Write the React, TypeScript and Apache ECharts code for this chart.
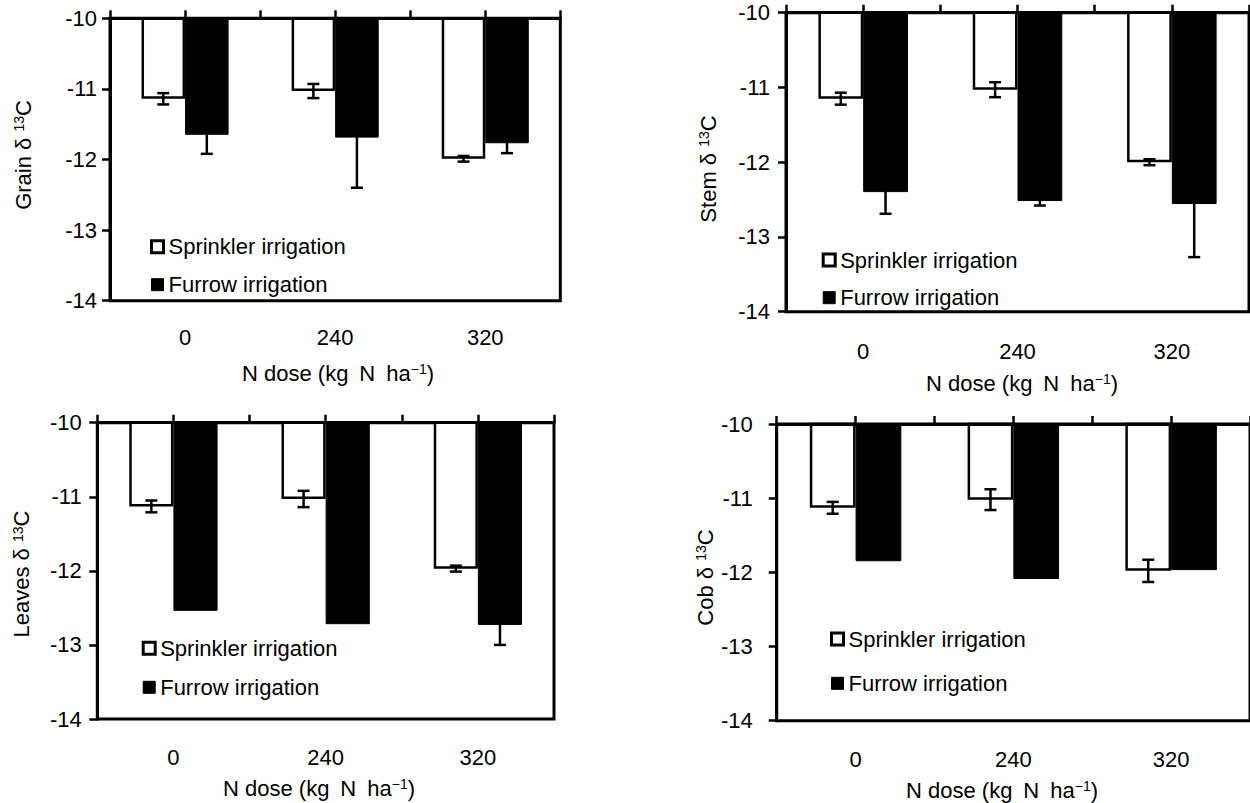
import React, { useEffect, useRef } from "react";
import * as echarts from "echarts";

const categories = ["0", "240", "320"];
const yTicks = [-14, -13, -12, -11, -10];

const grainSprinkler = [-11.14, -11.03, -11.99];
const grainSprinklerErr = [0.08, 0.1, 0.04];
const grainFurrow = [-11.65, -11.69, -11.77];
const grainFurrowErr = [0.27, 0.71, 0.14];

const stemSprinkler = [-11.15, -11.03, -12.0];
const stemSprinklerErr = [0.08, 0.1, 0.04];
const stemFurrow = [-12.4, -12.52, -12.56];
const stemFurrowErr = [0.29, 0.06, 0.71];

const leavesSprinkler = [-11.13, -11.03, -11.97];
const leavesSprinklerErr = [0.08, 0.11, 0.04];
const leavesFurrow = [-12.54, -12.72, -12.73];
const leavesFurrowErr = [0, 0, 0.27];

const cobSprinkler = [-11.13, -11.02, -11.98];
const cobSprinklerErr = [0.08, 0.14, 0.15];
const cobFurrow = [-11.85, -12.09, -11.97];
const cobFurrowErr = [0, 0, 0];

const SPRINKLER = "Sprinkler irrigation";
const FURROW = "Furrow irrigation";
const FONT = "'Liberation Sans', Arial, sans-serif";
const FS = 22;
const GAP = 0.42;

type Panel = {
  organ: string;
  s: number[];
  se: number[];
  f: number[];
  fe: number[];
  grid: { left: number; top: number; width: number; height: number };
  yLabelMargin: number;
  xLabelMargin: number;
  legend: { left: number; top: number; gap: number };
  yTitle: [number, number];
  xTitle: [number, number];
};

const panels: Panel[] = [
  {
    organ: "Grain",
    s: grainSprinkler, se: grainSprinklerErr, f: grainFurrow, fe: grainFurrowErr,
    grid: { left: 110, top: 18.3, width: 450.3, height: 282.4 },
    yLabelMargin: 13, xLabelMargin: 26,
    legend: { left: 150, top: 235.7, gap: 16 },
    yTitle: [23, 155], xTitle: [338, 373],
  },
  {
    organ: "Stem",
    s: stemSprinkler, se: stemSprinklerErr, f: stemFurrow, fe: stemFurrowErr,
    grid: { left: 786, top: 12.7, width: 463, height: 299 },
    yLabelMargin: 16, xLabelMargin: 29,
    legend: { left: 821.7, top: 249, gap: 15.7 },
    yTitle: [708, 169], xTitle: [1022, 383],
  },
  {
    organ: "Leaves",
    s: leavesSprinkler, se: leavesSprinklerErr, f: leavesFurrow, fe: leavesFurrowErr,
    grid: { left: 97.3, top: 422.7, width: 456.7, height: 296.3 },
    yLabelMargin: 15.6, xLabelMargin: 27,
    legend: { left: 141.7, top: 637.3, gap: 17 },
    yTitle: [21.7, 574], xTitle: [319, 788],
  },
  {
    organ: "Cob",
    s: cobSprinkler, se: cobSprinklerErr, f: cobFurrow, fe: cobFurrowErr,
    grid: { left: 776.7, top: 424, width: 475, height: 296.7 },
    yLabelMargin: 24, xLabelMargin: 27.5,
    legend: { left: 830, top: 628, gap: 22.3 },
    yTitle: [705, 577.5], xTitle: [1002, 790],
  },
];

function buildOption() {
  const grid: any[] = [];
  const xAxis: any[] = [];
  const yAxis: any[] = [];
  const series: any[] = [];
  const legend: any[] = [];
  const graphic: any[] = [];

  panels.forEach((p, i) => {
    grid.push({
      ...p.grid,
      show: true,
      borderColor: "#000",
      borderWidth: 3,
      backgroundColor: "transparent",
      containLabel: false,
    });
    // bottom category axis: labels only
    xAxis.push({
      type: "category",
      gridIndex: i,
      data: categories,
      position: "bottom",
      axisLine: { show: false },
      axisTick: { show: false },
      axisLabel: { color: "#000", fontSize: FS, fontFamily: FONT, margin: p.xLabelMargin },
      splitLine: { show: false },
    });
    // top value axis: ticks at category boundaries and centres
    xAxis.push({
      type: "value",
      gridIndex: i,
      position: "top",
      min: 0,
      max: categories.length,
      interval: 0.5,
      z: 5,
      axisLine: { show: true, lineStyle: { color: "#000", width: 3 } },
      axisTick: { show: true, inside: false, length: 8, lineStyle: { color: "#000", width: 2.5 } },
      axisLabel: { show: false },
      splitLine: { show: false },
    });
    yAxis.push({
      type: "value",
      gridIndex: i,
      min: yTicks[0],
      max: yTicks[yTicks.length - 1],
      interval: 1,
      z: 5,
      axisLine: { show: true, lineStyle: { color: "#000", width: 3 } },
      axisTick: { show: true, inside: false, length: 8, lineStyle: { color: "#000", width: 2.5 } },
      axisLabel: { color: "#000", fontSize: FS, fontFamily: FONT, margin: p.yLabelMargin },
      splitLine: { show: false },
    });
    series.push({
      type: "bar",
      name: SPRINKLER,
      xAxisIndex: i * 2,
      yAxisIndex: i,
      data: p.s,
      barGap: "0%",
      barCategoryGap: GAP * 100 + "%",
      itemStyle: { color: "#fff", borderColor: "#000", borderWidth: 2.5 },
      z: 2,
    });
    series.push({
      type: "bar",
      name: FURROW,
      xAxisIndex: i * 2,
      yAxisIndex: i,
      data: p.f,
      barGap: "0%",
      barCategoryGap: GAP * 100 + "%",
      itemStyle: { color: "#000", borderColor: "#000", borderWidth: 1 },
      z: 2,
    });
    const errData: number[][] = [];
    p.s.forEach((v, k) => errData.push([k, v, p.se[k], -1]));
    p.f.forEach((v, k) => errData.push([k, v, p.fe[k], 1]));
    series.push({
      type: "custom",
      name: "err" + i,
      xAxisIndex: i * 2,
      yAxisIndex: i,
      z: 3,
      clip: false,
      encode: { x: 0, y: 1 },
      data: errData,
      renderItem: (params: any, api: any) => {
        const cat = api.value(0);
        const val = api.value(1);
        const err = api.value(2);
        const side = api.value(3);
        if (!err) return { type: "group", children: [] };
        const band = api.size([1, 0])[0];
        const bw = (band * (1 - GAP)) / 2;
        const c = api.coord([cat, val]);
        const x = c[0] + (side * bw) / 2;
        const yTop = api.coord([cat, val + err])[1];
        const yBot = api.coord([cat, val - err])[1];
        const h = 6;
        const st = { stroke: "#000", lineWidth: 2.5 };
        return {
          type: "group",
          children: [
            { type: "line", shape: { x1: x, y1: yTop, x2: x, y2: yBot }, style: st },
            { type: "line", shape: { x1: x - h, y1: yTop, x2: x + h, y2: yTop }, style: st },
            { type: "line", shape: { x1: x - h, y1: yBot, x2: x + h, y2: yBot }, style: st },
          ],
        };
      },
    });
    legend.push({
      show: true,
      orient: "vertical",
      left: p.legend.left,
      top: p.legend.top,
      padding: 0,
      itemGap: p.legend.gap,
      itemWidth: 12,
      itemHeight: 12,
      selectedMode: false,
      icon: "rect",
      data: [
        { name: SPRINKLER, itemStyle: { color: "#fff", borderColor: "#000", borderWidth: 3 } },
        { name: FURROW, itemStyle: { color: "#000", borderColor: "#000", borderWidth: 1 } },
      ],
      textStyle: { color: "#000", fontSize: FS, fontFamily: FONT },
    });
    graphic.push({
      type: "text",
      x: p.yTitle[0],
      y: p.yTitle[1],
      rotation: Math.PI / 2,
      style: {
        text: p.organ + " δ {s|13}C",
        fill: "#000",
        fontSize: FS,
        fontFamily: FONT,
        align: "center",
        verticalAlign: "middle",
        textAlign: "center",
        textVerticalAlign: "middle",
        rich: { s: { fontSize: 14, fontFamily: FONT, fill: "#000", verticalAlign: "top", lineHeight: 12 } },
      },
    });
    graphic.push({
      type: "text",
      x: p.xTitle[0],
      y: p.xTitle[1],
      style: {
        text: "N dose (kg\u2002N\u2002ha{s|−1})",
        fill: "#000",
        fontSize: FS,
        fontFamily: FONT,
        align: "center",
        verticalAlign: "middle",
        textAlign: "center",
        textVerticalAlign: "middle",
        rich: { s: { fontSize: 14, fontFamily: FONT, fill: "#000", verticalAlign: "top", lineHeight: 12 } },
      },
    });
  });

  return {
    animation: false,
    backgroundColor: "#fff",
    textStyle: { fontFamily: FONT },
    grid,
    xAxis,
    yAxis,
    series,
    legend,
    graphic,
  };
}

export default function App() {
  const ref = useRef<HTMLDivElement>(null);
  useEffect(() => {
    if (!ref.current) return;
    const chart = echarts.init(ref.current, undefined, { renderer: "svg" });
    chart.setOption(buildOption());
    return () => chart.dispose();
  }, []);
  return (
    <div
      ref={ref}
      style={{ position: "fixed", left: 0, top: 0, width: 1250, height: 803, background: "#fff" }}
    />
  );
}
